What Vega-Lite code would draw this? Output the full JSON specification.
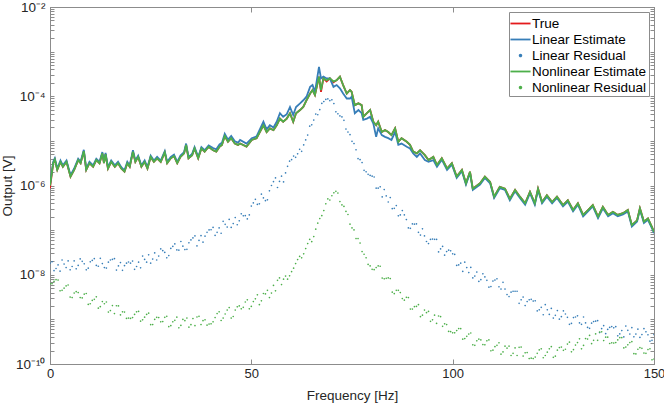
{
  "$schema": "https://vega.github.io/schema/vega-lite/v6.json",
  "width": 604,
  "height": 357,
  "autosize": "none",
  "padding": {"left": 50, "top": 7, "right": 10, "bottom": 39},
  "config": {
    "font": "Liberation Sans",
    "view": {"stroke": "#8c8c8c", "strokeWidth": 1},
    "axis": {
      "grid": false,
      "domainColor": "#8c8c8c",
      "tickColor": "#8c8c8c",
      "labelColor": "#262626",
      "titleColor": "#262626",
      "labelFontSize": 13.5,
      "titleFontSize": 13.5,
      "titleFontWeight": "normal",
      "labelFont": "Liberation Sans",
      "titleFont": "Liberation Sans"
    }
  },
  "datasets": {
    "lines": [
      {"f":0,"t":8.7e-7,"l":1.05e-6,"n":1.0e-6},
      {"f":0.8,"t":3.16e-6,"l":3.39e-6,"n":3.16e-6},
      {"f":1.2,"t":3.8e-6,"l":4.07e-6,"n":3.8e-6},
      {"f":1.8,"t":2.24e-6,"l":2.4e-6,"n":2.24e-6},
      {"f":2.6,"t":3.39e-6,"l":3.63e-6,"n":3.39e-6},
      {"f":3.2,"t":2.63e-6,"l":2.82e-6,"n":2.63e-6},
      {"f":4.1,"t":3.39e-6,"l":3.63e-6,"n":3.39e-6},
      {"f":5.1,"t":1.58e-6,"l":1.7e-6,"n":1.58e-6},
      {"f":6.0,"t":2.24e-6,"l":2.4e-6,"n":2.24e-6},
      {"f":7.0,"t":3.72e-6,"l":3.98e-6,"n":3.72e-6},
      {"f":7.6,"t":3.16e-6,"l":3.39e-6,"n":3.16e-6},
      {"f":8.4,"t":5.89e-6,"l":6.31e-6,"n":5.89e-6},
      {"f":9.0,"t":2.24e-6,"l":2.4e-6,"n":2.24e-6},
      {"f":9.8,"t":3.16e-6,"l":3.39e-6,"n":3.16e-6},
      {"f":10.7,"t":2.63e-6,"l":2.82e-6,"n":2.63e-6},
      {"f":11.5,"t":3.72e-6,"l":3.98e-6,"n":3.72e-6},
      {"f":12.3,"t":3.16e-6,"l":3.39e-6,"n":3.16e-6},
      {"f":13.0,"t":5.25e-6,"l":5.62e-6,"n":5.25e-6},
      {"f":13.4,"t":3.16e-6,"l":3.39e-6,"n":3.16e-6},
      {"f":13.8,"t":5.01e-6,"l":5.37e-6,"n":5.01e-6},
      {"f":14.4,"t":2.4e-6,"l":2.57e-6,"n":2.4e-6},
      {"f":15.2,"t":3.39e-6,"l":3.63e-6,"n":3.39e-6},
      {"f":16.1,"t":2.63e-6,"l":2.82e-6,"n":2.63e-6},
      {"f":16.9,"t":3.16e-6,"l":3.39e-6,"n":3.16e-6},
      {"f":17.7,"t":2.4e-6,"l":2.57e-6,"n":2.4e-6},
      {"f":18.5,"t":2.04e-6,"l":2.19e-6,"n":2.04e-6},
      {"f":19.2,"t":3.16e-6,"l":3.39e-6,"n":3.16e-6},
      {"f":19.8,"t":2.63e-6,"l":2.82e-6,"n":2.63e-6},
      {"f":20.6,"t":5.75e-6,"l":6.17e-6,"n":5.75e-6},
      {"f":21.2,"t":3.39e-6,"l":3.63e-6,"n":3.39e-6},
      {"f":21.9,"t":4.37e-6,"l":4.68e-6,"n":4.37e-6},
      {"f":22.7,"t":2.63e-6,"l":2.82e-6,"n":2.63e-6},
      {"f":23.5,"t":3.39e-6,"l":3.63e-6,"n":3.39e-6},
      {"f":24.2,"t":2.4e-6,"l":2.57e-6,"n":2.4e-6},
      {"f":25.0,"t":4.37e-6,"l":4.68e-6,"n":4.37e-6},
      {"f":25.8,"t":3.39e-6,"l":3.63e-6,"n":3.39e-6},
      {"f":26.6,"t":4.07e-6,"l":4.37e-6,"n":4.07e-6},
      {"f":27.5,"t":3.39e-6,"l":3.63e-6,"n":3.39e-6},
      {"f":28.5,"t":5.5e-6,"l":5.89e-6,"n":5.5e-6},
      {"f":29.1,"t":3.16e-6,"l":3.39e-6,"n":3.16e-6},
      {"f":30.0,"t":4.07e-6,"l":4.37e-6,"n":4.07e-6},
      {"f":30.8,"t":4.57e-6,"l":4.9e-6,"n":4.57e-6},
      {"f":31.6,"t":3.16e-6,"l":3.39e-6,"n":3.16e-6},
      {"f":32.4,"t":4.37e-6,"l":4.68e-6,"n":4.37e-6},
      {"f":33.3,"t":5.25e-6,"l":5.62e-6,"n":5.25e-6},
      {"f":33.8,"t":8.13e-6,"l":8.71e-6,"n":8.13e-6},
      {"f":34.4,"t":4.07e-6,"l":4.37e-6,"n":4.07e-6},
      {"f":35.3,"t":4.79e-6,"l":5.13e-6,"n":4.79e-6},
      {"f":35.9,"t":6.76e-6,"l":7.24e-6,"n":6.76e-6},
      {"f":36.8,"t":4.07e-6,"l":4.37e-6,"n":4.07e-6},
      {"f":37.6,"t":6.76e-6,"l":7.24e-6,"n":6.76e-6},
      {"f":38.4,"t":5.75e-6,"l":6.17e-6,"n":5.75e-6},
      {"f":39.4,"t":7.41e-6,"l":7.94e-6,"n":7.41e-6},
      {"f":40.5,"t":6.17e-6,"l":6.92e-6,"n":6.17e-6},
      {"f":41.3,"t":5.75e-6,"l":6.46e-6,"n":5.75e-6},
      {"f":42.1,"t":7.41e-6,"l":8.32e-6,"n":7.41e-6},
      {"f":42.7,"t":8.13e-6,"l":9.12e-6,"n":8.13e-6},
      {"f":43.4,"t":1.29e-5,"l":1.45e-5,"n":1.29e-5},
      {"f":44.2,"t":9.55e-6,"l":1.07e-5,"n":9.55e-6},
      {"f":45.0,"t":1.15e-5,"l":1.29e-5,"n":1.15e-5},
      {"f":45.9,"t":8.71e-6,"l":9.77e-6,"n":8.71e-6},
      {"f":46.7,"t":8.13e-6,"l":9.12e-6,"n":8.13e-6},
      {"f":47.2,"t":8.71e-6,"l":1.05e-5,"n":8.71e-6},
      {"f":48.8,"t":7.41e-6,"l":8.71e-6,"n":7.41e-6},
      {"f":50.1,"t":1.05e-5,"l":1.15e-5,"n":1.05e-5},
      {"f":51.3,"t":1.15e-5,"l":1.26e-5,"n":1.15e-5},
      {"f":53.0,"t":2.24e-5,"l":2.69e-5,"n":2.24e-5},
      {"f":53.8,"t":1.58e-5,"l":1.82e-5,"n":1.58e-5},
      {"f":54.6,"t":1.91e-5,"l":2.24e-5,"n":1.91e-5},
      {"f":55.5,"t":1.74e-5,"l":2.0e-5,"n":1.74e-5},
      {"f":56.3,"t":2.24e-5,"l":2.69e-5,"n":2.24e-5},
      {"f":57.1,"t":3.16e-5,"l":4.17e-5,"n":3.16e-5},
      {"f":57.9,"t":2.69e-5,"l":3.47e-5,"n":2.69e-5},
      {"f":58.8,"t":3.16e-5,"l":3.98e-5,"n":3.16e-5},
      {"f":59.6,"t":4.17e-5,"l":5.75e-5,"n":4.17e-5},
      {"f":60.4,"t":2.69e-5,"l":3.8e-5,"n":2.69e-5},
      {"f":61.1,"t":4.17e-5,"l":5.75e-5,"n":4.17e-5},
      {"f":62.1,"t":4.9e-5,"l":6.92e-5,"n":4.9e-5},
      {"f":62.9,"t":5.75e-5,"l":8.13e-5,"n":5.75e-5},
      {"f":63.7,"t":8.13e-5,"l":9.77e-5,"n":8.13e-5},
      {"f":64.6,"t":1.15e-4,"l":1.62e-4,"n":1.15e-4},
      {"f":65.2,"t":1.38e-4,"l":1.78e-4,"n":1.38e-4},
      {"f":65.8,"t":1.07e-4,"l":1.26e-4,"n":1.07e-4},
      {"f":66.8,"t":2.75e-4,"l":4.57e-4,"n":2.75e-4},
      {"f":67.3,"t":1.26e-4,"l":2.51e-4,"n":1.38e-4},
      {"f":67.9,"t":2.51e-4,"l":2.75e-4,"n":2.51e-4},
      {"f":68.7,"t":2.14e-4,"l":2.51e-4,"n":2.29e-4},
      {"f":69.5,"t":2.51e-4,"l":2.51e-4,"n":2.51e-4},
      {"f":70.4,"t":2.04e-4,"l":1.62e-4,"n":2.14e-4},
      {"f":71.2,"t":2.29e-4,"l":1.78e-4,"n":2.29e-4},
      {"f":72.0,"t":2.75e-4,"l":1.51e-4,"n":2.75e-4},
      {"f":72.8,"t":1.78e-4,"l":1.15e-4,"n":1.78e-4},
      {"f":73.7,"t":1.15e-4,"l":8.91e-5,"n":1.15e-4},
      {"f":74.5,"t":1.38e-4,"l":8.91e-5,"n":1.38e-4},
      {"f":74.9,"t":1.26e-4,"l":9.77e-5,"n":1.26e-4},
      {"f":75.7,"t":6.31e-5,"l":4.17e-5,"n":6.31e-5},
      {"f":76.6,"t":6.92e-5,"l":4.9e-5,"n":6.92e-5},
      {"f":77.4,"t":6.31e-5,"l":4.17e-5,"n":6.31e-5},
      {"f":77.8,"t":3.47e-5,"l":2.95e-5,"n":3.47e-5},
      {"f":78.7,"t":4.17e-5,"l":3.16e-5,"n":4.17e-5},
      {"f":79.5,"t":4.9e-5,"l":3.47e-5,"n":4.9e-5},
      {"f":80.3,"t":2.69e-5,"l":2.45e-5,"n":2.69e-5},
      {"f":81.0,"t":2.24e-5,"l":1.23e-5,"n":2.24e-5},
      {"f":81.5,"t":2.69e-5,"l":1.91e-5,"n":2.69e-5},
      {"f":82.4,"t":1.58e-5,"l":1.35e-5,"n":1.58e-5},
      {"f":83.2,"t":1.74e-5,"l":1.23e-5,"n":1.74e-5},
      {"f":84.0,"t":1.58e-5,"l":1.15e-5,"n":1.58e-5},
      {"f":84.8,"t":1.35e-5,"l":1.05e-5,"n":1.35e-5},
      {"f":85.7,"t":1.91e-5,"l":1.58e-5,"n":1.91e-5},
      {"f":86.5,"t":9.55e-6,"l":8.13e-6,"n":9.55e-6},
      {"f":87.3,"t":1.15e-5,"l":8.71e-6,"n":1.15e-5},
      {"f":88.6,"t":9.55e-6,"l":7.41e-6,"n":9.55e-6},
      {"f":89.4,"t":8.13e-6,"l":6.76e-6,"n":8.13e-6},
      {"f":90.2,"t":5.75e-6,"l":5.25e-6,"n":5.75e-6},
      {"f":91.1,"t":5.25e-6,"l":4.37e-6,"n":5.25e-6},
      {"f":91.9,"t":6.17e-6,"l":5.25e-6,"n":6.17e-6},
      {"f":93.1,"t":4.79e-6,"l":3.72e-6,"n":4.79e-6},
      {"f":94.0,"t":3.72e-6,"l":3.39e-6,"n":3.72e-6},
      {"f":95.2,"t":4.37e-6,"l":3.72e-6,"n":4.37e-6},
      {"f":96.1,"t":2.88e-6,"l":2.63e-6,"n":2.88e-6},
      {"f":97.3,"t":4.07e-6,"l":3.8e-6,"n":4.07e-6},
      {"f":98.6,"t":2.4e-6,"l":2.24e-6,"n":2.4e-6},
      {"f":99.8,"t":3.16e-6,"l":2.95e-6,"n":3.16e-6},
      {"f":101.0,"t":1.58e-6,"l":1.48e-6,"n":1.58e-6},
      {"f":102.3,"t":2.24e-6,"l":2.09e-6,"n":2.24e-6},
      {"f":103.3,"t":1.12e-6,"l":1.05e-6,"n":1.12e-6},
      {"f":104.3,"t":2.04e-6,"l":1.91e-6,"n":2.04e-6},
      {"f":105.0,"t":8.51e-7,"l":7.94e-7,"n":8.51e-7},
      {"f":106.8,"t":1.12e-6,"l":1.05e-6,"n":1.12e-6},
      {"f":108.0,"t":1.58e-6,"l":1.48e-6,"n":1.58e-6},
      {"f":109.3,"t":1.2e-6,"l":1.12e-6,"n":1.2e-6},
      {"f":110.3,"t":5.62e-7,"l":5.25e-7,"n":5.62e-7},
      {"f":111.7,"t":9.33e-7,"l":8.71e-7,"n":9.33e-7},
      {"f":113.0,"t":8.51e-7,"l":7.94e-7,"n":8.51e-7},
      {"f":114.2,"t":5.01e-7,"l":4.68e-7,"n":5.01e-7},
      {"f":115.5,"t":7.94e-7,"l":7.41e-7,"n":7.94e-7},
      {"f":116.7,"t":5.62e-7,"l":5.25e-7,"n":5.62e-7},
      {"f":118.0,"t":3.98e-7,"l":3.72e-7,"n":3.98e-7},
      {"f":119.2,"t":7.24e-7,"l":6.76e-7,"n":7.24e-7},
      {"f":120.4,"t":3.98e-7,"l":3.72e-7,"n":3.98e-7},
      {"f":121.2,"t":8.51e-7,"l":7.94e-7,"n":8.51e-7},
      {"f":122.2,"t":4.27e-7,"l":3.98e-7,"n":4.27e-7},
      {"f":123.4,"t":6.03e-7,"l":5.62e-7,"n":6.03e-7},
      {"f":124.7,"t":4.27e-7,"l":3.98e-7,"n":4.27e-7},
      {"f":125.9,"t":5.62e-7,"l":5.25e-7,"n":5.62e-7},
      {"f":127.4,"t":3.63e-7,"l":3.39e-7,"n":3.63e-7},
      {"f":128.6,"t":4.68e-7,"l":4.37e-7,"n":4.68e-7},
      {"f":129.9,"t":2.82e-7,"l":2.63e-7,"n":2.82e-7},
      {"f":131.1,"t":3.98e-7,"l":3.72e-7,"n":3.98e-7},
      {"f":132.4,"t":2.19e-7,"l":2.04e-7,"n":2.19e-7},
      {"f":133.6,"t":2.82e-7,"l":2.63e-7,"n":2.82e-7},
      {"f":134.8,"t":3.63e-7,"l":3.39e-7,"n":3.63e-7},
      {"f":136.1,"t":2.0e-7,"l":1.86e-7,"n":2.0e-7},
      {"f":137.3,"t":3.31e-7,"l":3.09e-7,"n":3.31e-7},
      {"f":138.6,"t":2.19e-7,"l":2.04e-7,"n":2.19e-7},
      {"f":139.8,"t":2.57e-7,"l":2.4e-7,"n":2.57e-7},
      {"f":141.0,"t":2.19e-7,"l":2.04e-7,"n":2.19e-7},
      {"f":142.3,"t":2.4e-7,"l":2.24e-7,"n":2.4e-7},
      {"f":143.5,"t":2.82e-7,"l":2.63e-7,"n":2.82e-7},
      {"f":144.5,"t":1.29e-7,"l":1.2e-7,"n":1.29e-7},
      {"f":145.8,"t":1.66e-7,"l":1.55e-7,"n":1.66e-7},
      {"f":146.5,"t":3.09e-7,"l":2.88e-7,"n":3.09e-7},
      {"f":147.5,"t":1.55e-7,"l":1.45e-7,"n":1.55e-7},
      {"f":148.5,"t":1.82e-7,"l":1.7e-7,"n":1.82e-7},
      {"f":149.5,"t":1.17e-7,"l":1.1e-7,"n":1.17e-7},
      {"f":150.0,"t":9.12e-8,"l":8.51e-8,"n":9.12e-8}
    ],
    "resid": [
      {"f":0,"lr":1.82e-8,"nr":6.31e-9},{"f":0.5,"lr":1.95e-8,"nr":6.31e-9},
      {"f":1,"lr":1.23e-8,"nr":7.08e-9},{"f":1.5,"lr":1.38e-8,"nr":7.76e-9},
      {"f":2,"lr":1.66e-8,"nr":7.59e-9},{"f":2.5,"lr":1.2e-8,"nr":4.37e-9},
      {"f":3,"lr":2.14e-8,"nr":4.47e-9},{"f":3.5,"lr":1.74e-8,"nr":5.01e-9},
      {"f":4,"lr":1.45e-8,"nr":5.62e-9},{"f":4.5,"lr":2.04e-8,"nr":5.89e-9},
      {"f":5,"lr":1.29e-8,"nr":3.16e-9},{"f":5.5,"lr":1.53e-8,"nr":3.09e-9},
      {"f":6,"lr":2.04e-8,"nr":3.89e-9},{"f":6.5,"lr":1.36e-8,"nr":4.17e-9},
      {"f":7,"lr":1.62e-8,"nr":3.98e-9},{"f":7.5,"lr":2.26e-8,"nr":3.09e-9},
      {"f":8,"lr":2.0e-8,"nr":3.02e-9},{"f":8.5,"lr":1.76e-8,"nr":3.67e-9},
      {"f":9,"lr":1.29e-8,"nr":3.8e-9},{"f":9.5,"lr":1.4e-8,"nr":2.16e-9},
      {"f":10,"lr":1.95e-8,"nr":2.24e-9},{"f":10.5,"lr":2.09e-8,"nr":2.66e-9},
      {"f":11,"lr":2.29e-8,"nr":2.82e-9},{"f":11.5,"lr":1.62e-8,"nr":3.2e-9},
      {"f":12,"lr":1.55e-8,"nr":1.78e-9},{"f":12.5,"lr":2.34e-8,"nr":1.93e-9},
      {"f":13,"lr":1.78e-8,"nr":2.51e-9},{"f":13.5,"lr":1.45e-8,"nr":2.24e-9},
      {"f":14,"lr":1.41e-8,"nr":2.45e-9},{"f":14.5,"lr":1.91e-8,"nr":1.46e-9},
      {"f":15,"lr":2.14e-8,"nr":1.58e-9},{"f":15.5,"lr":2.21e-8,"nr":2.04e-9},
      {"f":16,"lr":2.29e-8,"nr":1.35e-9},{"f":16.5,"lr":1.27e-8,"nr":2.02e-9},
      {"f":17,"lr":1.58e-8,"nr":2.0e-9},{"f":17.5,"lr":1.88e-8,"nr":1.26e-9},
      {"f":18,"lr":1.26e-8,"nr":1.48e-9},{"f":18.5,"lr":1.6e-8,"nr":1.46e-9},
      {"f":19,"lr":1.82e-8,"nr":1.05e-9},{"f":19.5,"lr":1.93e-8,"nr":1.07e-9},
      {"f":20,"lr":1.82e-8,"nr":1.05e-9},{"f":20.5,"lr":2.02e-8,"nr":1.1e-9},
      {"f":21,"lr":1.32e-8,"nr":1.29e-9},{"f":21.5,"lr":1.53e-8,"nr":1.48e-9},
      {"f":22,"lr":1.91e-8,"nr":1.51e-9},{"f":22.5,"lr":1.43e-8,"nr":9.12e-10},
      {"f":23,"lr":2.63e-8,"nr":9.77e-10},{"f":23.5,"lr":2.21e-8,"nr":1.12e-9},
      {"f":24,"lr":1.91e-8,"nr":1.29e-9},{"f":24.5,"lr":2.79e-8,"nr":1.38e-9},
      {"f":25,"lr":1.82e-8,"nr":7.59e-10},{"f":25.5,"lr":2.24e-8,"nr":7.67e-10},
      {"f":26,"lr":3.09e-8,"nr":1.0e-9},{"f":26.5,"lr":2.14e-8,"nr":1.11e-9},
      {"f":27,"lr":2.63e-8,"nr":1.1e-9},{"f":27.5,"lr":3.8e-8,"nr":8.81e-10},
      {"f":28,"lr":3.47e-8,"nr":8.91e-10},{"f":28.5,"lr":3.16e-8,"nr":1.11e-9},
      {"f":29,"lr":2.4e-8,"nr":1.17e-9},{"f":29.5,"lr":2.69e-8,"nr":6.84e-10},
      {"f":30,"lr":3.89e-8,"nr":7.24e-10},{"f":30.5,"lr":4.32e-8,"nr":8.81e-10},
      {"f":31,"lr":4.9e-8,"nr":9.55e-10},{"f":31.5,"lr":3.59e-8,"nr":1.12e-9},
      {"f":32,"lr":3.55e-8,"nr":6.46e-10},{"f":32.5,"lr":5.56e-8,"nr":7.33e-10},
      {"f":33,"lr":4.37e-8,"nr":1.0e-9},{"f":33.5,"lr":3.67e-8,"nr":9.33e-10},
      {"f":34,"lr":3.72e-8,"nr":1.07e-9},{"f":34.5,"lr":5.19e-8,"nr":6.68e-10},
      {"f":35,"lr":6.03e-8,"nr":7.59e-10},{"f":35.5,"lr":6.68e-8,"nr":1.04e-9},
      {"f":36,"lr":7.41e-8,"nr":7.24e-10},{"f":36.5,"lr":4.42e-8,"nr":1.13e-9},
      {"f":37,"lr":5.89e-8,"nr":1.17e-9},{"f":37.5,"lr":7.5e-8,"nr":7.67e-10},
      {"f":38,"lr":5.37e-8,"nr":9.33e-10},{"f":38.5,"lr":7.33e-8,"nr":9.77e-10},
      {"f":39,"lr":8.91e-8,"nr":7.41e-10},{"f":39.5,"lr":1.01e-7,"nr":7.85e-10},
      {"f":40,"lr":1.02e-7,"nr":7.94e-10},{"f":40.5,"lr":1.15e-7,"nr":8.81e-10},
      {"f":41,"lr":7.59e-8,"nr":1.1e-9},{"f":41.5,"lr":8.91e-8,"nr":1.35e-9},
      {"f":42,"lr":1.12e-7,"nr":1.48e-9},{"f":42.5,"lr":8.51e-8,"nr":9.44e-10},
      {"f":43,"lr":1.58e-7,"nr":1.07e-9},{"f":43.5,"lr":1.35e-7,"nr":1.32e-9},
      {"f":44,"lr":1.17e-7,"nr":1.62e-9},{"f":44.5,"lr":1.74e-7,"nr":1.84e-9},
      {"f":45,"lr":1.15e-7,"nr":1.07e-9},{"f":45.5,"lr":1.4e-7,"nr":1.16e-9},
      {"f":46,"lr":1.91e-7,"nr":1.62e-9},{"f":46.5,"lr":1.32e-7,"nr":1.91e-9},
      {"f":47,"lr":1.62e-7,"nr":2.0e-9},{"f":47.5,"lr":2.32e-7,"nr":1.72e-9},
      {"f":48,"lr":2.09e-7,"nr":1.86e-9},{"f":48.5,"lr":2.11e-7,"nr":2.45e-9},
      {"f":49,"lr":1.78e-7,"nr":2.75e-9},{"f":49.5,"lr":2.19e-7,"nr":1.72e-9},
      {"f":50,"lr":3.47e-7,"nr":1.95e-9},{"f":50.5,"lr":4.07e-7,"nr":2.51e-9},
      {"f":51,"lr":4.9e-7,"nr":2.88e-9},{"f":51.5,"lr":3.76e-7,"nr":3.55e-9},
      {"f":52,"lr":3.89e-7,"nr":2.14e-9},{"f":52.5,"lr":6.38e-7,"nr":2.6e-9},
      {"f":53,"lr":5.25e-7,"nr":3.8e-9},{"f":53.5,"lr":4.57e-7,"nr":3.72e-9},
      {"f":54,"lr":4.79e-7,"nr":4.47e-9},{"f":54.5,"lr":7.59e-7,"nr":3.09e-9},
      {"f":55,"lr":1.0e-6,"nr":3.89e-9},{"f":55.5,"lr":1.22e-6,"nr":5.75e-9},
      {"f":56,"lr":1.48e-6,"nr":4.37e-9},{"f":56.5,"lr":9.02e-7,"nr":7.5e-9},
      {"f":57,"lr":1.23e-6,"nr":8.51e-9},{"f":57.5,"lr":1.62e-6,"nr":6.03e-9},
      {"f":58,"lr":1.2e-6,"nr":7.94e-9},{"f":58.5,"lr":1.91e-6,"nr":9.33e-9},
      {"f":59,"lr":2.69e-6,"nr":7.94e-9},{"f":59.5,"lr":3.51e-6,"nr":9.44e-9},
      {"f":60,"lr":3.8e-6,"nr":1.17e-8},{"f":60.5,"lr":4.57e-6,"nr":1.4e-8},
      {"f":61,"lr":4.27e-6,"nr":1.78e-8},{"f":61.5,"lr":5.13e-6,"nr":2.19e-8},
      {"f":62,"lr":6.46e-6,"nr":2.57e-8},{"f":62.5,"lr":5.82e-6,"nr":2.4e-8},
      {"f":63,"lr":8.13e-6,"nr":2.95e-8},{"f":63.5,"lr":1.05e-5,"nr":3.85e-8},
      {"f":64,"lr":1.35e-5,"nr":5.01e-8},{"f":64.5,"lr":2.14e-5,"nr":6.17e-8},
      {"f":65,"lr":2.29e-5,"nr":5.5e-8},{"f":65.5,"lr":2.92e-5,"nr":7.16e-8},
      {"f":66,"lr":3.98e-5,"nr":1.05e-7},{"f":66.5,"lr":3.85e-5,"nr":1.43e-7},
      {"f":67,"lr":5.01e-5,"nr":1.82e-7},{"f":67.5,"lr":6.92e-5,"nr":2.11e-7},
      {"f":68,"lr":7.59e-5,"nr":2.75e-7},{"f":68.5,"lr":8.51e-5,"nr":3.89e-7},
      {"f":69,"lr":8.71e-5,"nr":5.01e-7},{"f":69.5,"lr":7.94e-5,"nr":4.73e-7},
      {"f":70,"lr":8.32e-5,"nr":5.89e-7},{"f":70.5,"lr":6.84e-5,"nr":6.84e-7},
      {"f":71,"lr":4.47e-5,"nr":7.41e-7},{"f":71.5,"lr":4.03e-5,"nr":6.76e-7},
      {"f":72,"lr":3.63e-5,"nr":4.37e-7},{"f":72.5,"lr":3.43e-5,"nr":3.67e-7},
      {"f":73,"lr":2.88e-5,"nr":3.39e-7},{"f":73.5,"lr":1.84e-5,"nr":2.63e-7},
      {"f":74,"lr":1.58e-5,"nr":2.24e-7},{"f":74.5,"lr":1.38e-5,"nr":1.36e-7},
      {"f":75,"lr":9.77e-6,"nr":1.12e-7},{"f":75.5,"lr":8.71e-6,"nr":1.01e-7},
      {"f":76,"lr":6.31e-6,"nr":6.46e-8},{"f":76.5,"lr":3.98e-6,"nr":6.46e-8},
      {"f":77,"lr":3.8e-6,"nr":5.13e-8},{"f":77.5,"lr":3.27e-6,"nr":3.31e-8},
      {"f":78,"lr":2.19e-6,"nr":2.88e-8},{"f":78.5,"lr":2.02e-6,"nr":2.4e-8},
      {"f":79,"lr":1.78e-6,"nr":1.7e-8},{"f":79.5,"lr":1.68e-6,"nr":1.58e-8},
      {"f":80,"lr":1.62e-6,"nr":1.32e-8},{"f":80.5,"lr":1.55e-6,"nr":1.3e-8},
      {"f":81,"lr":8.71e-7,"nr":1.45e-8},{"f":81.5,"lr":8.71e-7,"nr":1.58e-8},
      {"f":82,"lr":9.33e-7,"nr":1.55e-8},{"f":82.5,"lr":5.56e-7,"nr":8.41e-9},
      {"f":83,"lr":8.13e-7,"nr":8.13e-9},{"f":83.5,"lr":5.82e-7,"nr":8.32e-9},
      {"f":84,"lr":4.27e-7,"nr":8.51e-9},{"f":84.5,"lr":5.37e-7,"nr":8.22e-9},
      {"f":85,"lr":3.02e-7,"nr":4.07e-9},{"f":85.5,"lr":3.09e-7,"nr":3.76e-9},
      {"f":86,"lr":3.55e-7,"nr":4.47e-9},{"f":86.5,"lr":2.09e-7,"nr":4.47e-9},
      {"f":87,"lr":2.19e-7,"nr":3.98e-9},{"f":87.5,"lr":2.75e-7,"nr":2.92e-9},
      {"f":88,"lr":2.19e-7,"nr":2.69e-9},{"f":88.5,"lr":1.72e-7,"nr":3.13e-9},
      {"f":89,"lr":1.12e-7,"nr":3.09e-9},{"f":89.5,"lr":1.1e-7,"nr":1.7e-9},
      {"f":90,"lr":1.38e-7,"nr":1.7e-9},{"f":90.5,"lr":1.36e-7,"nr":1.93e-9},
      {"f":91,"lr":1.38e-7,"nr":1.95e-9},{"f":91.5,"lr":8.91e-8,"nr":2.14e-9},
      {"f":92,"lr":7.76e-8,"nr":1.15e-9},{"f":92.5,"lr":1.07e-7,"nr":1.24e-9},
      {"f":93,"lr":7.41e-8,"nr":1.62e-9},{"f":93.5,"lr":5.56e-8,"nr":1.41e-9},
      {"f":94,"lr":5.01e-8,"nr":1.51e-9},{"f":94.5,"lr":6.17e-8,"nr":9.02e-10},
      {"f":95,"lr":6.31e-8,"nr":9.77e-10},{"f":95.5,"lr":6.24e-8,"nr":1.24e-9},
      {"f":96,"lr":6.17e-8,"nr":8.13e-10},{"f":96.5,"lr":3.24e-8,"nr":1.19e-9},
      {"f":97,"lr":3.8e-8,"nr":1.15e-9},{"f":97.5,"lr":4.32e-8,"nr":7.0e-10},
      {"f":98,"lr":2.75e-8,"nr":7.94e-10},{"f":98.5,"lr":3.31e-8,"nr":7.67e-10},
      {"f":99,"lr":3.55e-8,"nr":5.37e-10},{"f":99.5,"lr":3.43e-8,"nr":5.31e-10},
      {"f":100,"lr":2.95e-8,"nr":5.01e-10},{"f":100.5,"lr":2.85e-8,"nr":5.01e-10},
      {"f":101,"lr":1.62e-8,"nr":5.62e-10},{"f":101.5,"lr":1.66e-8,"nr":6.24e-10},
      {"f":102,"lr":1.82e-8,"nr":6.17e-10},{"f":102.5,"lr":1.19e-8,"nr":3.59e-10},
      {"f":103,"lr":1.91e-8,"nr":3.72e-10},{"f":103.5,"lr":1.45e-8,"nr":4.17e-10},
      {"f":104,"lr":1.12e-8,"nr":4.68e-10},{"f":104.5,"lr":1.46e-8,"nr":4.95e-10},
      {"f":105,"lr":8.51e-9,"nr":2.69e-10},{"f":105.5,"lr":9.33e-9,"nr":2.63e-10},
      {"f":106,"lr":1.15e-8,"nr":3.31e-10},{"f":106.5,"lr":7.08e-9,"nr":3.59e-10},
      {"f":107,"lr":7.76e-9,"nr":3.47e-10},{"f":107.5,"lr":1.05e-8,"nr":2.72e-10},
      {"f":108,"lr":8.91e-9,"nr":2.69e-10},{"f":108.5,"lr":7.5e-9,"nr":3.31e-10},
      {"f":109,"lr":5.25e-9,"nr":3.47e-10},{"f":109.5,"lr":5.43e-9,"nr":1.97e-10},
      {"f":110,"lr":7.24e-9,"nr":2.04e-10},{"f":110.5,"lr":7.59e-9,"nr":2.45e-10},
      {"f":111,"lr":8.13e-9,"nr":2.63e-10},{"f":111.5,"lr":5.37e-9,"nr":2.99e-10},
      {"f":112,"lr":4.79e-9,"nr":1.66e-10},{"f":112.5,"lr":6.76e-9,"nr":1.86e-10},
      {"f":113,"lr":4.79e-9,"nr":2.51e-10},{"f":113.5,"lr":3.59e-9,"nr":2.26e-10},
      {"f":114,"lr":3.24e-9,"nr":2.51e-10},{"f":114.5,"lr":4.07e-9,"nr":1.55e-10},
      {"f":115,"lr":4.27e-9,"nr":1.74e-10},{"f":115.5,"lr":4.27e-9,"nr":2.29e-10},
      {"f":116,"lr":4.27e-9,"nr":1.55e-10},{"f":116.5,"lr":2.29e-9,"nr":2.37e-10},
      {"f":117,"lr":2.75e-9,"nr":2.4e-10},{"f":117.5,"lr":3.16e-9,"nr":1.51e-10},
      {"f":118,"lr":2.04e-9,"nr":1.78e-10},{"f":118.5,"lr":2.51e-9,"nr":1.8e-10},
      {"f":119,"lr":2.75e-9,"nr":1.32e-10},{"f":119.5,"lr":2.82e-9,"nr":1.35e-10},
      {"f":120,"lr":2.57e-9,"nr":1.32e-10},{"f":120.5,"lr":2.6e-9,"nr":1.43e-10},
      {"f":121,"lr":1.55e-9,"nr":1.74e-10},{"f":121.5,"lr":1.64e-9,"nr":2.07e-10},
      {"f":122,"lr":1.86e-9,"nr":2.19e-10},{"f":122.5,"lr":1.27e-9,"nr":1.38e-10},
      {"f":123,"lr":2.14e-9,"nr":1.55e-10},{"f":123.5,"lr":1.64e-9,"nr":1.84e-10},
      {"f":124,"lr":1.29e-9,"nr":2.19e-10},{"f":124.5,"lr":1.76e-9,"nr":2.45e-10},
      {"f":125,"lr":1.07e-9,"nr":1.41e-10},{"f":125.5,"lr":1.23e-9,"nr":1.5e-10},
      {"f":126,"lr":1.58e-9,"nr":2.04e-10},{"f":126.5,"lr":1.01e-9,"nr":2.34e-10},
      {"f":127,"lr":1.15e-9,"nr":2.4e-10},{"f":127.5,"lr":1.55e-9,"nr":2.02e-10},
      {"f":128,"lr":1.32e-9,"nr":2.14e-10},{"f":128.5,"lr":1.11e-9,"nr":2.79e-10},
      {"f":129,"lr":7.76e-10,"nr":3.09e-10},{"f":129.5,"lr":8.13e-10,"nr":1.88e-10},
      {"f":130,"lr":1.1e-9,"nr":2.09e-10},{"f":130.5,"lr":1.13e-9,"nr":2.66e-10},
      {"f":131,"lr":1.2e-9,"nr":3.02e-10},{"f":131.5,"lr":8.32e-10,"nr":3.67e-10},
      {"f":132,"lr":7.76e-10,"nr":2.19e-10},{"f":132.5,"lr":1.13e-9,"nr":2.6e-10},
      {"f":133,"lr":8.32e-10,"nr":3.72e-10},{"f":133.5,"lr":6.61e-10,"nr":3.63e-10},
      {"f":134,"lr":6.31e-10,"nr":4.37e-10},{"f":134.5,"lr":8.22e-10,"nr":2.85e-10},
      {"f":135,"lr":8.91e-10,"nr":3.39e-10},{"f":135.5,"lr":9.12e-10,"nr":4.73e-10},
      {"f":136,"lr":9.33e-10,"nr":3.39e-10},{"f":136.5,"lr":5.07e-10,"nr":5.19e-10},
      {"f":137,"lr":6.17e-10,"nr":5.25e-10},{"f":137.5,"lr":7.24e-10,"nr":3.35e-10},
      {"f":138,"lr":4.79e-10,"nr":3.98e-10},{"f":138.5,"lr":5.96e-10,"nr":3.98e-10},
      {"f":139,"lr":6.61e-10,"nr":2.88e-10},{"f":139.5,"lr":6.92e-10,"nr":2.99e-10},
      {"f":140,"lr":6.46e-10,"nr":2.95e-10},{"f":140.5,"lr":6.84e-10,"nr":3.02e-10},
      {"f":141,"lr":4.27e-10,"nr":3.47e-10},{"f":141.5,"lr":4.73e-10,"nr":3.89e-10},
      {"f":142,"lr":5.62e-10,"nr":3.89e-10},{"f":142.5,"lr":4.03e-10,"nr":2.29e-10},
      {"f":143,"lr":7.08e-10,"nr":2.4e-10},{"f":143.5,"lr":5.69e-10,"nr":2.69e-10},
      {"f":144,"lr":4.68e-10,"nr":3.02e-10},{"f":144.5,"lr":6.53e-10,"nr":3.16e-10},
      {"f":145,"lr":4.07e-10,"nr":1.7e-10},{"f":145.5,"lr":4.68e-10,"nr":1.68e-10},
      {"f":146,"lr":6.03e-10,"nr":2.14e-10},{"f":146.5,"lr":3.94e-10,"nr":2.32e-10},
      {"f":147,"lr":4.57e-10,"nr":2.24e-10},{"f":147.5,"lr":6.17e-10,"nr":1.76e-10},
      {"f":148,"lr":5.25e-10,"nr":1.74e-10},{"f":148.5,"lr":4.52e-10,"nr":2.11e-10},
      {"f":149,"lr":3.24e-10,"nr":2.19e-10},{"f":149.5,"lr":3.39e-10,"nr":1.24e-10},
      {"f":150,"lr":4.57e-10,"nr":1.29e-10}
    ]
  },
  "resolve": {"axis": {"x": "independent", "y": "independent"}},
  "layer": [
    {
      "data": {"name": "lines"},
      "transform": [{"fold": ["t", "l", "n"], "as": ["key", "v"]}],
      "mark": {"type": "line", "strokeWidth": 1.8, "clip": true},
      "encoding": {
        "x": {
          "field": "f",
          "type": "quantitative",
          "scale": {"domain": [0, 150], "nice": false, "zero": false},
          "axis": {
            "values": [0, 50, 100, 150],
            "title": "Frequency [Hz]",
            "tickSize": -5,
            "labelPadding": 8,
            "labelFontSize": 13,
            "labelFlush": false,
            "titleY": 35,
            "titleBaseline": "alphabetic"
          }
        },
        "y": {
          "field": "v",
          "type": "quantitative",
          "scale": {"type": "log", "domain": [1e-10, 0.01], "nice": false},
          "axis": {
            "values": [1e-10,2e-10,3e-10,4e-10,5e-10,6e-10,7e-10,8e-10,9e-10,1e-9,2e-9,3e-9,4e-9,5e-9,6e-9,7e-9,8e-9,9e-9,1e-8,2e-8,3e-8,4e-8,5e-8,6e-8,7e-8,8e-8,9e-8,1e-7,2e-7,3e-7,4e-7,5e-7,6e-7,7e-7,8e-7,9e-7,1e-6,2e-6,3e-6,4e-6,5e-6,6e-6,7e-6,8e-6,9e-6,1e-5,2e-5,3e-5,4e-5,5e-5,6e-5,7e-5,8e-5,9e-5,0.0001,0.0002,0.0003,0.0004,0.0005,0.0006,0.0007,0.0008,0.0009,0.001,0.002,0.003,0.004,0.005,0.006,0.007,0.008,0.009,0.01],
            "labelExpr": "datum.value == 0.01 ? '10⁻²' : datum.value == 0.0001 ? '10⁻⁴' : datum.value == 0.000001 ? '10⁻⁶' : datum.value == 0.00000001 ? '10⁻⁸' : datum.value == 0.0000000001 ? '10⁻¹⁰' : ''",
            "labelOverlap": false,
            "labelFlush": false,
            "labelBaseline": "middle",
            "tickSize": -4,
            "labelPadding": 9,
            "title": "Output [V]",
            "titleX": -43,
            "titleBaseline": "middle"
          }
        },
        "color": {
          "field": "key",
          "type": "nominal",
          "scale": {
            "domain": ["t", "l", "lr", "n", "nr"],
            "range": ["#e41a1c", "#377eb8", "#377eb8", "#4daf4a", "#4daf4a"]
          },
          "legend": {
            "title": null,
            "orient": "top-right",
            "offset": 5,
            "fillColor": "white",
            "strokeColor": "#8c8c8c",
            "padding": 2,
            "rowPadding": 0,
            "symbolSize": 280,
            "symbolStrokeWidth": 1.8,
            "labelFontSize": 13.5,
            "labelFont": "Liberation Sans",
            "labelColor": "#000000",
            "labelOffset": 2,
            "labelExpr": "datum.label == 't' ? 'True' : datum.label == 'l' ? 'Linear Estimate' : datum.label == 'lr' ? 'Linear Residual' : datum.label == 'n' ? 'Nonlinear Estimate' : 'Nonlinear Residual'"
          }
        }
      }
    },
    {
      "data": {"name": "resid"},
      "transform": [{"fold": ["lr", "nr"], "as": ["key", "v"]}],
      "mark": {"type": "point", "filled": true, "opacity": 1, "size": 300, "clip": true},
      "encoding": {
        "x": {
          "field": "f",
          "type": "quantitative",
          "axis": {"values": [0, 50, 100, 150], "labels": false, "title": null, "tickSize": -5}
        },
        "y": {
          "field": "v",
          "type": "quantitative",
          "axis": {
            "values": [1e-10,2e-10,3e-10,4e-10,5e-10,6e-10,7e-10,8e-10,9e-10,1e-9,2e-9,3e-9,4e-9,5e-9,6e-9,7e-9,8e-9,9e-9,1e-8,2e-8,3e-8,4e-8,5e-8,6e-8,7e-8,8e-8,9e-8,1e-7,2e-7,3e-7,4e-7,5e-7,6e-7,7e-7,8e-7,9e-7,1e-6,2e-6,3e-6,4e-6,5e-6,6e-6,7e-6,8e-6,9e-6,1e-5,2e-5,3e-5,4e-5,5e-5,6e-5,7e-5,8e-5,9e-5,0.0001,0.0002,0.0003,0.0004,0.0005,0.0006,0.0007,0.0008,0.0009,0.001,0.002,0.003,0.004,0.005,0.006,0.007,0.008,0.009,0.01],
            "labels": false,
            "title": null,
            "tickSize": -4
          }
        },
        "color": {"field": "key", "type": "nominal"},
        "shape": {
          "field": "key",
          "type": "nominal",
          "scale": {
            "domain": ["t", "l", "lr", "n", "nr"],
            "range": ["M-1.2,0H1.2", "M-1.2,0H1.2", "M-0.1,0a0.1,0.1 0 1,0 0.2,0a0.1,0.1 0 1,0 -0.2,0", "M-1.2,0H1.2", "M-0.1,0a0.1,0.1 0 1,0 0.2,0a0.1,0.1 0 1,0 -0.2,0"]
          },
          "legend": {
            "title": null,
            "orient": "top-right",
            "offset": 5,
            "fillColor": "white",
            "strokeColor": "#8c8c8c",
            "padding": 2,
            "rowPadding": 0,
            "symbolSize": 280,
            "symbolStrokeWidth": 1.8,
            "labelFontSize": 13.5,
            "labelFont": "Liberation Sans",
            "labelColor": "#000000",
            "labelOffset": 2,
            "labelExpr": "datum.label == 't' ? 'True' : datum.label == 'l' ? 'Linear Estimate' : datum.label == 'lr' ? 'Linear Residual' : datum.label == 'n' ? 'Nonlinear Estimate' : 'Nonlinear Residual'"
          }
        }
      }
    }
  ]
}
